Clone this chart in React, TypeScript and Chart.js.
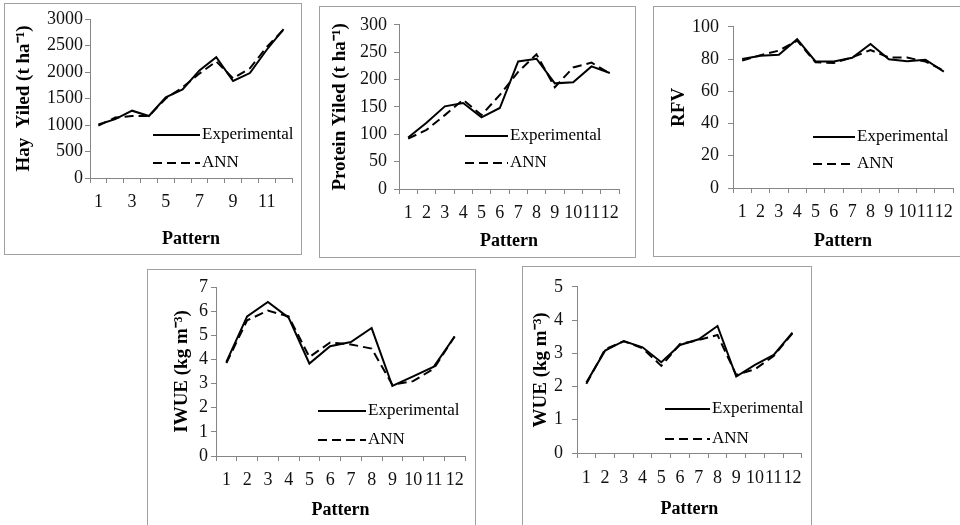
import { useEffect, useRef } from 'react';
import { Chart, registerables } from 'chart.js';

Chart.register(...registerables);

// Pattern numbers along the x axis
const patterns = ['1', '2', '3', '4', '5', '6', '7', '8', '9', '10', '11', '12'];

// Hay yield (t ha-1)
const hayExperimental = [1010, 1110, 1270, 1170, 1520, 1670, 2030, 2280, 1830, 1980, 2420, 2810];
const hayAnn = [990, 1140, 1170, 1170, 1500, 1710, 1970, 2200, 1880, 2070, 2470, 2800];

// Protein yield (t ha-1)
const proteinExperimental = [94, 121, 151, 157, 131, 148, 233, 238, 193, 195, 224, 212];
const proteinAnn = [92, 108, 135, 163, 135, 172, 214, 246, 186, 222, 231, 211];

// Relative feed value
const rfvExperimental = [80, 82, 82.6, 92.3, 78.5, 78.5, 80.8, 89.3, 79.8, 78.6, 79.6, 72.2];
const rfvAnn = [79, 82.4, 85.2, 91.4, 78, 77.6, 81, 85.6, 81, 80.9, 78.4, 72.8];

// Irrigation water use efficiency (kg m-3)
const iwueExperimental = [3.9, 5.78, 6.38, 5.73, 3.83, 4.55, 4.72, 5.3, 2.9, 3.3, 3.7, 4.95];
const iwueAnn = [3.85, 5.62, 6.02, 5.78, 4.1, 4.7, 4.62, 4.45, 2.95, 3.1, 3.62, 4.95];

// Water use efficiency (kg m-3)
const wueExperimental = [2.12, 3.08, 3.37, 3.18, 2.73, 3.25, 3.42, 3.82, 2.3, 2.65, 2.95, 3.62];
const wueAnn = [2.08, 3.12, 3.36, 3.15, 2.62, 3.28, 3.4, 3.55, 2.35, 2.52, 2.92, 3.6];

const SERIF = "'Liberation Serif', 'Times New Roman', serif";
const AXIS_GREY = '#868686';
const FRAME_GREY = '#a0a0a0';

type Panel = {
  key: string;
  yTitle: string;
  yMax: number;
  yStep: number;
  exp: number[];
  ann: number[];
  oddLabelsOnly: boolean;
  // page-level layout of the framed panel and its plot
  box: { x: number; y: number; w: number; h: number };
  area: { l: number; t: number; r: number; b: number };
  xLabelY: number;
  xTitleY: number;
  yTitleX: number;
  yTickGap: number;
  legend: { x: number; len: number; y1: number; y2: number };
};

const panels: Panel[] = [
  {
    key: 'hay',
    yTitle: 'Hay  Yiled (t ha\u207B\u00B9)',
    yMax: 3000,
    yStep: 500,
    exp: hayExperimental,
    ann: hayAnn,
    oddLabelsOnly: true,
    box: { x: 4, y: 3, w: 298, h: 252 },
    area: { l: 90, t: 19, r: 292, b: 178 },
    xLabelY: 202,
    xTitleY: 239,
    yTitleX: 24,
    yTickGap: 7,
    legend: { x: 153, len: 47, y1: 135, y2: 163 },
  },
  {
    key: 'protein',
    yTitle: 'Protein Yiled (t ha\u207B\u00B9)',
    yMax: 300,
    yStep: 50,
    exp: proteinExperimental,
    ann: proteinAnn,
    oddLabelsOnly: false,
    box: { x: 319, y: 6, w: 317, h: 252 },
    area: { l: 399, t: 21.5, r: 619, b: 189 },
    xLabelY: 213,
    xTitleY: 241,
    yTitleX: 340,
    yTickGap: 12,
    legend: { x: 465, len: 43, y1: 136, y2: 163 },
  },
  {
    key: 'rfv',
    yTitle: 'RFV',
    yMax: 100,
    yStep: 20,
    exp: rfvExperimental,
    ann: rfvAnn,
    oddLabelsOnly: false,
    box: { x: 653, y: 6, w: 320, h: 251 },
    area: { l: 733, t: 21.5, r: 953, b: 188 },
    xLabelY: 212,
    xTitleY: 241,
    yTitleX: 679,
    yTickGap: 14,
    legend: { x: 813, len: 42, y1: 137, y2: 164 },
  },
  {
    key: 'iwue',
    yTitle: 'IWUE (kg m\u207B\u00B3)',
    yMax: 7,
    yStep: 1,
    exp: iwueExperimental,
    ann: iwueAnn,
    oddLabelsOnly: false,
    box: { x: 147, y: 269, w: 329, h: 261 },
    area: { l: 216, t: 287, r: 465, b: 456 },
    xLabelY: 480,
    xTitleY: 510,
    yTitleX: 182,
    yTickGap: 8,
    legend: { x: 318, len: 48, y1: 411, y2: 440 },
  },
  {
    key: 'wue',
    yTitle: 'WUE (kg m\u207B\u00B3)',
    yMax: 5,
    yStep: 1,
    exp: wueExperimental,
    ann: wueAnn,
    oddLabelsOnly: false,
    box: { x: 522, y: 266, w: 290, h: 264 },
    area: { l: 577, t: 285, r: 802, b: 453 },
    xLabelY: 478,
    xTitleY: 509,
    yTitleX: 541,
    yTickGap: 14,
    legend: { x: 665, len: 45, y1: 409, y2: 439 },
  },
];

// Legend drawn inside the plot: a line sample followed by the series name
const insetLegend = {
  id: 'insetLegend',
  afterDraw(chart: any, _args: any, opts: any) {
    const { ctx } = chart;
    const rows = [opts.y1, opts.y2];
    chart.data.datasets.forEach((ds: any, i: number) => {
      const y = rows[i];
      ctx.save();
      ctx.strokeStyle = ds.borderColor;
      ctx.lineWidth = ds.borderWidth;
      ctx.setLineDash(ds.borderDash || []);
      ctx.beginPath();
      ctx.moveTo(opts.x, y);
      ctx.lineTo(opts.x + opts.len, y);
      ctx.stroke();
      ctx.setLineDash([]);
      ctx.fillStyle = '#000';
      ctx.font = `17px ${SERIF}`;
      ctx.textBaseline = 'middle';
      ctx.textAlign = 'left';
      ctx.fillText(ds.label, opts.x + opts.len + 2, y);
      ctx.restore();
    });
  },
};

function PanelChart({ p }: { p: Panel }) {
  const ref = useRef<HTMLCanvasElement>(null);
  const ox = p.box.x + 1;
  const oy = p.box.y + 1;
  const cw = p.box.w - 2;
  const ch = p.box.h - 2;

  useEffect(() => {
    const canvas = ref.current;
    if (!canvas) return;
    const tickLen = 5;
    const tickFont = { family: SERIF, size: 18, lineHeight: 1.2 };
    const xTitleFont = { family: SERIF, size: 18, weight: 'bold' as const, lineHeight: 1.2 };
    const yTitleFont = { family: SERIF, size: 19, weight: 'bold' as const, lineHeight: 1.2 };

    const areaL = p.area.l - ox;
    const areaT = p.area.t - oy;
    const areaR = p.area.r - ox;
    const areaB = p.area.b - oy;

    const chart = new Chart(canvas, {
      type: 'line',
      data: {
        labels: patterns,
        datasets: [
          {
            label: 'Experimental',
            data: p.exp,
            borderColor: '#000',
            borderWidth: 2,
            pointRadius: 0,
            tension: 0,
            fill: false,
          },
          {
            label: 'ANN',
            data: p.ann,
            borderColor: '#000',
            borderWidth: 2,
            borderDash: [9, 5],
            pointRadius: 0,
            tension: 0,
            fill: false,
          },
        ],
      },
      options: {
        responsive: false,
        animation: false,
        devicePixelRatio: 1,
        events: [],
        layout: { padding: { left: 0, top: areaT, right: cw - areaR, bottom: 0 } },
        plugins: {
          legend: { display: false },
          tooltip: { enabled: false },
          insetLegend: {
            x: p.legend.x - ox,
            len: p.legend.len,
            y1: p.legend.y1 - oy,
            y2: p.legend.y2 - oy,
          },
        } as any,
        scales: {
          x: {
            type: 'category',
            offset: true,
            grid: {
              display: true,
              drawOnChartArea: false,
              drawTicks: true,
              tickLength: tickLen,
              offset: true,
              color: AXIS_GREY,
              lineWidth: 1,
            },
            border: { display: true, color: AXIS_GREY, width: 1 },
            ticks: {
              autoSkip: false,
              maxRotation: 0,
              minRotation: 0,
              padding: p.xLabelY - p.area.b - tickLen - 10.8,
              font: tickFont,
              color: '#111',
              callback: (_v: any, i: number) =>
                p.oddLabelsOnly && i % 2 === 1 ? '' : patterns[i],
            },
            title: {
              display: true,
              text: 'Pattern',
              color: '#000',
              font: xTitleFont,
              padding: { top: 0, bottom: ch - (p.xTitleY - oy) - 10.8 },
            },
            afterFit: (s: any) => {
              s.height = ch - areaB;
            },
          },
          y: {
            type: 'linear',
            min: 0,
            max: p.yMax,
            grid: {
              display: true,
              drawOnChartArea: false,
              drawTicks: true,
              tickLength: tickLen,
              color: AXIS_GREY,
              lineWidth: 1,
            },
            border: { display: true, color: AXIS_GREY, width: 1 },
            ticks: {
              stepSize: p.yStep,
              autoSkip: false,
              padding: p.yTickGap - tickLen,
              font: tickFont,
              color: '#111',
              callback: (v: any) => String(v),
            },
            title: {
              display: true,
              text: p.yTitle,
              color: '#000',
              font: yTitleFont,
              padding: { top: p.yTitleX - ox - 11.4, bottom: 0 },
            },
            afterFit: (s: any) => {
              s.width = areaL;
            },
          },
        },
      },
      plugins: [insetLegend],
    } as any);
    return () => chart.destroy();
  }, []);

  return (
    <div
      style={{
        position: 'absolute',
        left: p.box.x,
        top: p.box.y,
        width: p.box.w - 2,
        height: p.box.h - 2,
        border: `1px solid ${FRAME_GREY}`,
        background: '#fff',
      }}
    >
      <canvas
        ref={ref}
        width={cw}
        height={ch}
        style={{ display: 'block', width: cw, height: ch }}
      />
    </div>
  );
}

export default function App() {
  return (
    <div
      style={{
        position: 'fixed',
        left: 0,
        top: 0,
        width: 960,
        height: 525,
        overflow: 'hidden',
        background: '#fff',
      }}
    >
      {panels.map((p) => (
        <PanelChart key={p.key} p={p} />
      ))}
    </div>
  );
}
